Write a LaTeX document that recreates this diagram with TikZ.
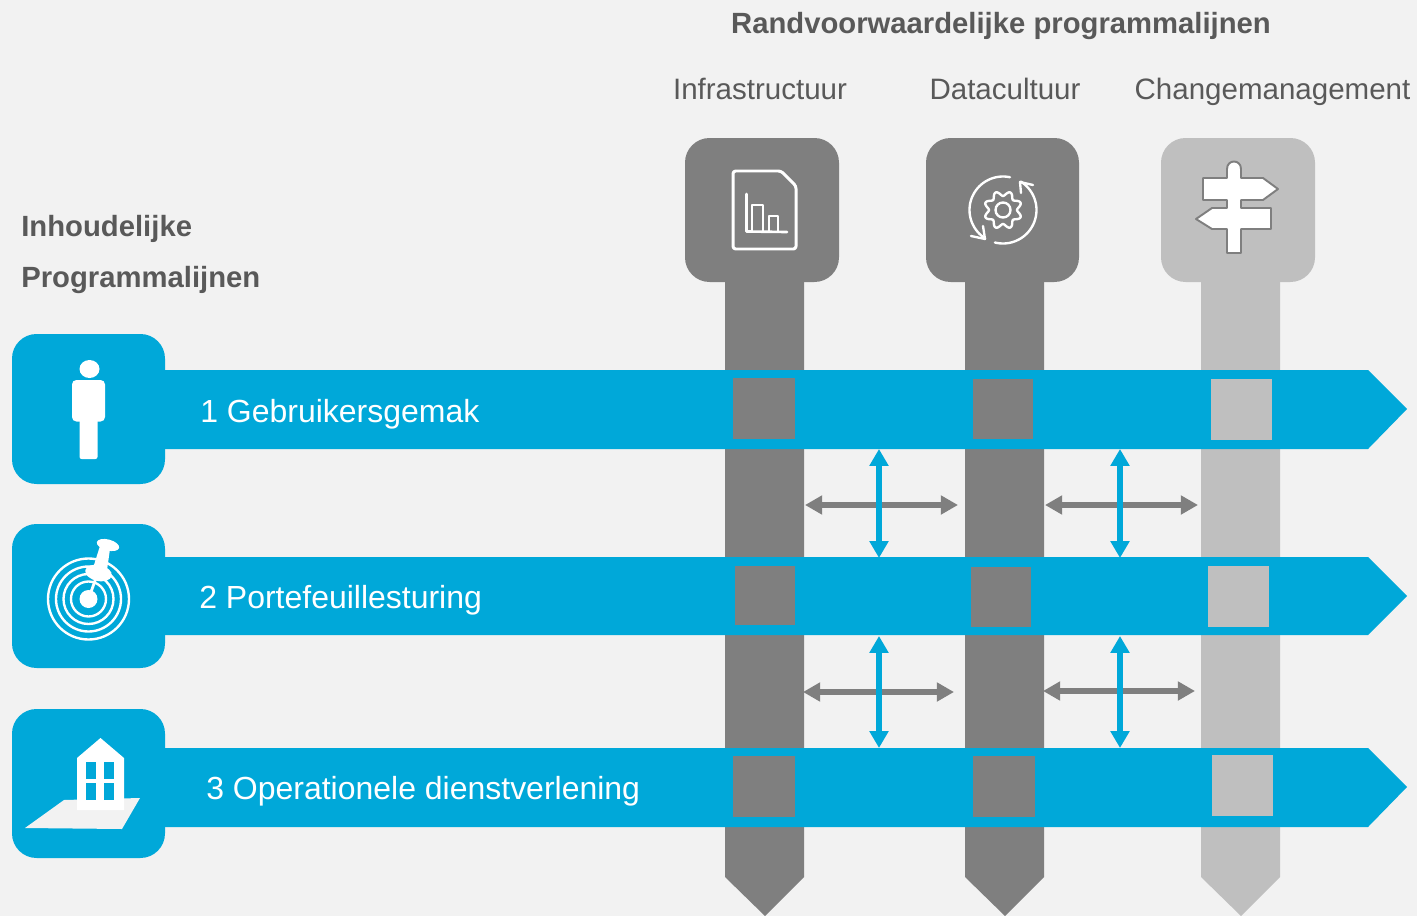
\documentclass[tikz,border=0pt]{standalone}
\usepackage{fontspec}
\setmainfont{Liberation Sans}
\usepackage{xcolor}
\usetikzlibrary{arrows.meta}
\definecolor{pageGrey}{HTML}{F2F2F2}
\definecolor{barGrey}{HTML}{7F7F7F}
\definecolor{barLight}{HTML}{BFBFBF}
\definecolor{lineBlue}{HTML}{00A8D9}
\definecolor{textGrey}{HTML}{595959}
\tikzset{
  headBox/.style={rounded corners=14pt},
  iconLine/.style={draw=white, line width=1.7pt, line join=round, line cap=round},
  gearLine/.style={draw=white, line width=1.35pt, line join=round, line cap=round},
  radarRing/.style={draw=white, line width=1.35pt},
  greyLink/.style={{Triangle[length=9.8pt,width=10.4pt]}-{Triangle[length=9.8pt,width=10.4pt]}, barGrey, line width=3.8pt},
  blueLink/.style={{Triangle[length=9.6pt,width=10.4pt]}-{Triangle[length=9.6pt,width=10.4pt]}, lineBlue, line width=3.4pt},
  columnHead/.style={text=textGrey, font=\fontsize{16.8}{20}\selectfont, anchor=base},
  boldHead/.style={text=textGrey, font=\fontsize{16.65}{20}\selectfont\bfseries},
  rowLabel/.style={text=white, font=\fontsize{18.2}{22}\selectfont, anchor=base west}
}
\begin{document}
\begin{tikzpicture}[x=0.02cm, y=-0.02cm]
  \useasboundingbox (0,0) rectangle (1417,916);
  \fill[pageGrey] (0,0) rectangle (1417,916);

  % Titles
  \node[boldHead, anchor=base] (titleMain) at (1001,33) {Randvoorwaardelijke programmalijnen};
  \node[columnHead] (titleInfra) at (760,99) {Infrastructuur};
  \node[columnHead] (titleData) at (1005,99) {Datacultuur};
  \node[columnHead] (titleChange) at (1272.5,99) {Changemanagement};
  \node[boldHead, anchor=base west, inner xsep=0pt] (titleLeftA) at (21,236) {Inhoudelijke};
  \node[boldHead, anchor=base west, inner xsep=0pt] (titleLeftB) at (21,287) {Programmalijnen};

  % Columns
  \fill[barGrey] (725,270) -- (804,270) -- (804,877) -- (765,916) -- (725,877) -- cycle;
  \fill[barGrey] (965,270) -- (1044,270) -- (1044,877) -- (1005,916) -- (965,877) -- cycle;
  \fill[barLight] (1201,270) -- (1280,270) -- (1280,877) -- (1241,916) -- (1201,877) -- cycle;
  \fill[barGrey, headBox] (685,138) rectangle (839,282);
  \fill[barGrey, headBox] (926,138) rectangle (1079,282);
  \fill[barLight, headBox] (1161,138) rectangle (1315,282);

  % Rows
  \fill[lineBlue] (150,370) -- (1368,370) -- (1407,409) -- (1368,449) -- (150,449) -- cycle;
  \fill[lineBlue] (150,557) -- (1368,557) -- (1407,596) -- (1368,635) -- (150,635) -- cycle;
  \fill[lineBlue] (150,748) -- (1368,748) -- (1407,787) -- (1368,827) -- (150,827) -- cycle;
  \fill[lineBlue, headBox] (12,334) rectangle (165,484);
  \fill[lineBlue, headBox] (12,524) rectangle (165,668);
  \fill[lineBlue, headBox] (12,709) rectangle (165,858);
  \node[rowLabel, inner xsep=0pt] (labelOne) at (200,422) {1 Gebruikersgemak};
  \node[rowLabel, inner xsep=0pt] (labelTwo) at (199,608) {2 Portefeuillesturing};
  \node[rowLabel, inner xsep=0pt] (labelThree) at (206,799) {3 Operationele dienstverlening};

  % Crossing squares
  \fill[barGrey] (733,378) rectangle (795,439);
  \fill[barGrey] (973,379) rectangle (1033,439);
  \fill[barLight] (1211,379) rectangle (1272,440);
  \fill[barGrey] (735,566) rectangle (795,625);
  \fill[barGrey] (971,567) rectangle (1031,627);
  \fill[barLight] (1208,566) rectangle (1269,627);
  \fill[barGrey] (733,756) rectangle (795,817);
  \fill[barGrey] (973,756) rectangle (1035,817);
  \fill[barLight] (1212,755) rectangle (1273,816);

  % Link ends
  \coordinate (linkAw) at (805,505);
  \coordinate (linkAe) at (958,505);
  \coordinate (linkAn) at (879,449);
  \coordinate (linkAs) at (879,558);
  \coordinate (linkBw) at (1045,505);
  \coordinate (linkBe) at (1198,505);
  \coordinate (linkBn) at (1120,449);
  \coordinate (linkBs) at (1120,558);
  \coordinate (linkCw) at (803,692);
  \coordinate (linkCe) at (954,692);
  \coordinate (linkCn) at (879,636);
  \coordinate (linkCs) at (879,748);
  \coordinate (linkDw) at (1043,691);
  \coordinate (linkDe) at (1195,691);
  \coordinate (linkDn) at (1120,636);
  \coordinate (linkDs) at (1120,748);

  % Links
  \draw[greyLink] (linkAw) -- (linkAe);
  \draw[blueLink] (linkAn) -- (linkAs);
  \draw[greyLink] (linkBw) -- (linkBe);
  \draw[blueLink] (linkBn) -- (linkBs);
  \draw[greyLink] (linkCw) -- (linkCe);
  \draw[blueLink] (linkCn) -- (linkCs);
  \draw[greyLink] (linkDw) -- (linkDe);
  \draw[blueLink] (linkDn) -- (linkDs);

  % Document icon
  \draw[iconLine, rounded corners=1.5pt] (733,171) -- (781,171) -- (796,186) -- (796,249) -- (733,249) -- cycle;
  \draw[iconLine, line width=1.5pt] (746.5,194) -- (746.5,231.5) -- (787,232);
  \draw[iconLine, line width=1.5pt] (752,231) -- (752,205) -- (763,205) -- (763,231);
  \draw[iconLine, line width=1.5pt] (769,231) -- (769,216) -- (778,216) -- (778,231);

  % Gear icon
  \draw[gearLine] plot[smooth cycle, domain=0:357, samples=120] ({1003+(16.5+2.5*cos(8*\x+180))*cos(\x)}, {210+(16.5+2.5*cos(8*\x+180))*sin(\x)});
  \draw[gearLine] (1003,210) circle (7.5);
  \draw[gearLine] plot[smooth, domain=78:238, samples=40] ({1003+33.5*cos(\x)}, {210-33.5*sin(\x)});
  \draw[gearLine] (971,236) -- (985,239) -- (983,226);
  \draw[gearLine] plot[smooth, domain=-104:58, samples=40] ({1003+33.5*cos(\x)}, {210-33.5*sin(\x)});
  \draw[gearLine] (1033,185) -- (1020,182) -- (1021,193);

  % Signpost icon
  \draw[fill=white, draw=barGrey, line width=1.1pt, line join=round]
    (1227,178) -- (1227,169) .. controls (1227,159) and (1241,159) .. (1241,169) -- (1241,178)
    -- (1263,178) -- (1278,189) -- (1263,200) -- (1241,200) -- (1241,208) -- (1271,208) -- (1271,229)
    -- (1241,229) -- (1241,253) -- (1227,253) -- (1227,229) -- (1212,229) -- (1196,219) -- (1212,208)
    -- (1227,208) -- (1227,200) -- (1203,200) -- (1203,178) -- cycle;

  % Person icon
  \fill[white] (89.5,369) ellipse (10 and 9);
  \fill[white, rounded corners=2.5pt] (72,380) rectangle (105,421.5);
  \fill[white, rounded corners=1.2pt] (79.5,415) rectangle (97.5,459);

  % Radar icon
  \draw[radarRing] (88.5,599) circle (40.5);
  \draw[radarRing] (88.5,599) circle (32.5);
  \draw[radarRing] (88.5,599) circle (25);
  \draw[radarRing] (88.5,599) circle (17.5);
  \fill[white] (88.5,599) circle (9);
  \fill[white, rotate around={-15:(108,545)}] (108,545) ellipse (11.5 and 5.5);
  \fill[white] (100,546) -- (110,549) -- (107,570) -- (93,568) -- cycle;
  \fill[white, rotate around={-12:(98.5,573)}] (98.5,573) ellipse (13.5 and 8);
  \draw[white, line width=1.6pt] (96,578) -- (91,592);

  % Building icon
  \fill[pageGrey] (25,828) -- (64,800) -- (140,798) -- (122,829) -- cycle;
  \fill[white] (77,810) -- (77,758) -- (100.5,738) -- (124,758) -- (124,810) -- cycle;
  \fill[lineBlue] (86,762) rectangle (96,779);
  \fill[lineBlue] (104,762) rectangle (114,779);
  \fill[lineBlue] (86,783) rectangle (96,800);
  \fill[lineBlue] (104,783) rectangle (114,800);
\end{tikzpicture}
\end{document}
